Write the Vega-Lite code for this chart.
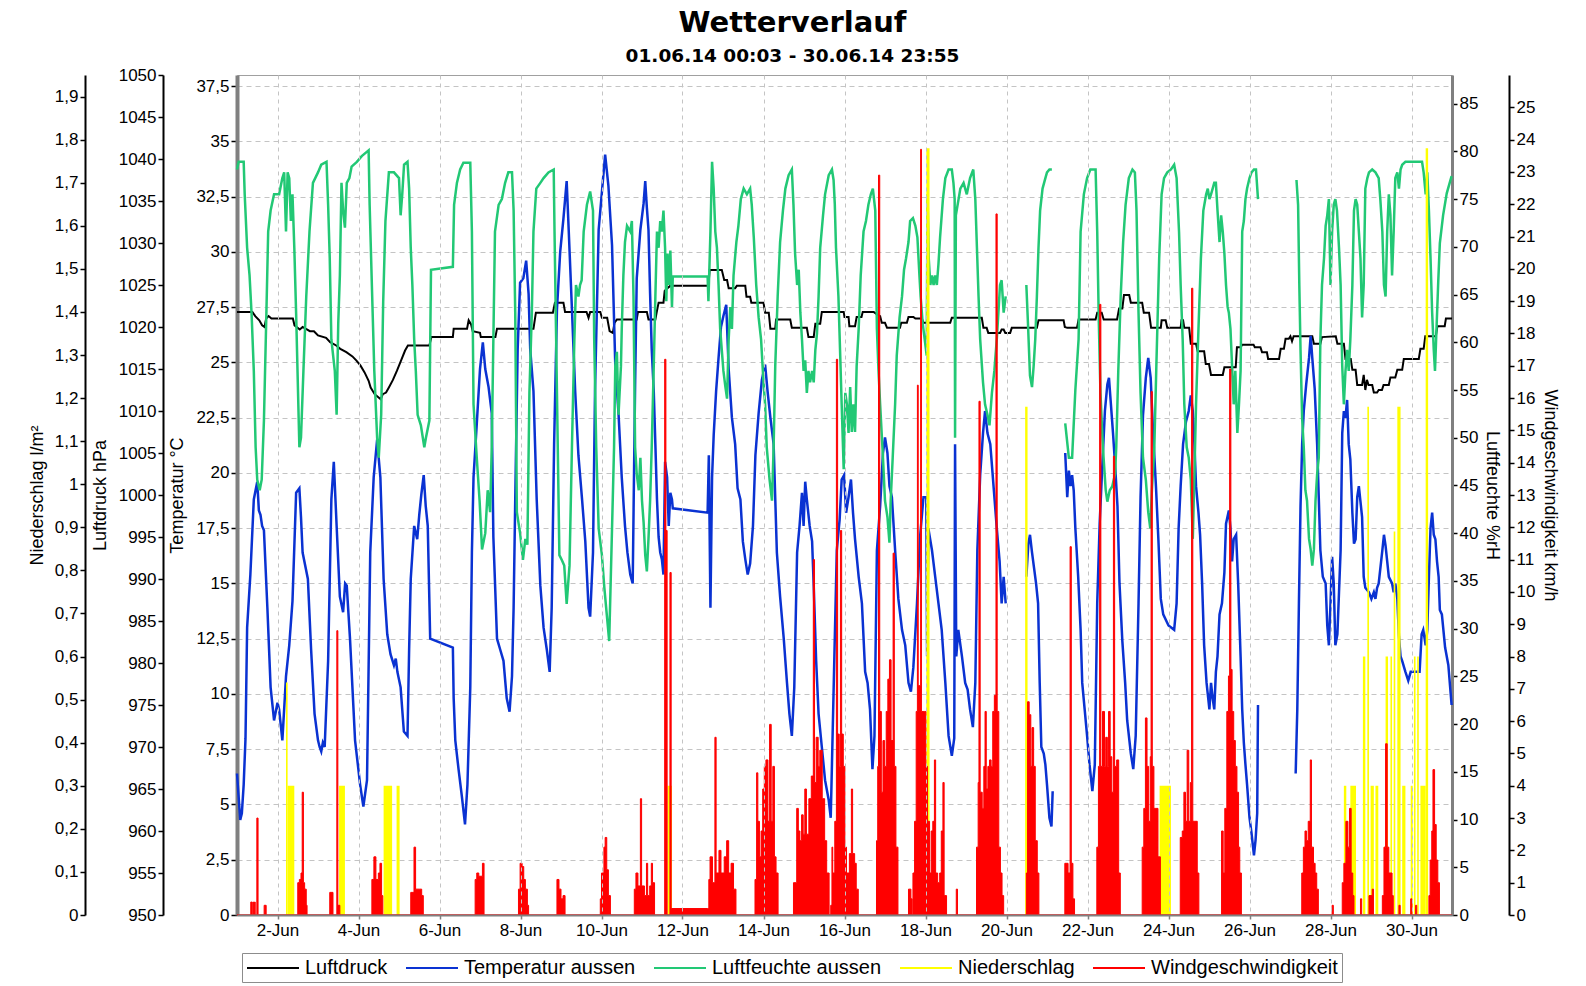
{
"$schema": "https://vega.github.io/schema/vega-lite/v6.json",
"width": 1215,
"height": 840,
"autosize": {"type": "none"},
"padding": {"left": 237, "top": 75, "right": 134, "bottom": 71},
"background": "#ffffff",
"title": {
  "text": "Wetterverlauf",
  "subtitle": "01.06.14 00:03 - 30.06.14 23:55",
  "font": "DejaVu Sans", "fontSize": 29, "fontWeight": "bold", "color": "#000000",
  "subtitleFont": "DejaVu Sans", "subtitleFontSize": 18.5, "subtitleFontWeight": "bold", "subtitleColor": "#000000",
  "subtitlePadding": 9, "offset": 1, "anchor": "middle", "dx": -52
},
"datasets": {
"p": [{"d":1.0,"v":1021.8},{"d":1.38,"v":1021.8},{"d":1.45,"v":1021.3},{"d":1.55,"v":1020.8},{"d":1.62,"v":1020.2},{"d":1.68,"v":1020.0},{"d":1.72,"v":1021.0},{"d":1.78,"v":1021.3},{"d":1.85,"v":1021.0},{"d":2.38,"v":1021.0},{"d":2.42,"v":1020.2},{"d":2.55,"v":1019.7},{"d":2.62,"v":1020.0},{"d":2.8,"v":1019.5},{"d":2.9,"v":1019.5},{"d":3.0,"v":1019.0},{"d":3.2,"v":1018.7},{"d":3.3,"v":1018.2},{"d":3.45,"v":1017.8},{"d":3.55,"v":1017.4},{"d":3.7,"v":1017.0},{"d":3.85,"v":1016.5},{"d":3.95,"v":1016.0},{"d":4.05,"v":1015.4},{"d":4.15,"v":1014.6},{"d":4.25,"v":1013.6},{"d":4.3,"v":1012.8},{"d":4.4,"v":1012.0},{"d":4.55,"v":1011.4},{"d":4.6,"v":1012.0},{"d":4.68,"v":1012.2},{"d":4.75,"v":1012.8},{"d":4.85,"v":1013.7},{"d":4.95,"v":1014.8},{"d":5.05,"v":1016.0},{"d":5.15,"v":1017.2},{"d":5.22,"v":1017.8},{"d":5.75,"v":1017.8},{"d":5.8,"v":1018.8},{"d":6.33,"v":1018.8},{"d":6.35,"v":1019.8},{"d":6.68,"v":1019.8},{"d":6.72,"v":1020.8},{"d":6.78,"v":1020.3},{"d":6.82,"v":1019.5},{"d":7.0,"v":1019.3},{"d":7.02,"v":1018.8},{"d":7.38,"v":1018.8},{"d":7.42,"v":1019.8},{"d":8.32,"v":1019.8},{"d":8.38,"v":1021.7},{"d":8.8,"v":1021.7},{"d":8.85,"v":1022.9},{"d":9.06,"v":1022.9},{"d":9.1,"v":1021.8},{"d":9.63,"v":1021.8},{"d":9.68,"v":1021.1},{"d":9.72,"v":1021.8},{"d":9.97,"v":1021.8},{"d":10.01,"v":1021.1},{"d":10.14,"v":1021.1},{"d":10.2,"v":1019.5},{"d":10.28,"v":1019.3},{"d":10.32,"v":1020.5},{"d":10.38,"v":1020.9},{"d":10.87,"v":1020.9},{"d":10.9,"v":1021.8},{"d":11.12,"v":1021.8},{"d":11.16,"v":1020.9},{"d":11.33,"v":1020.9},{"d":11.36,"v":1021.7},{"d":11.41,"v":1022.9},{"d":11.53,"v":1022.9},{"d":11.56,"v":1024.3},{"d":11.62,"v":1024.6},{"d":11.7,"v":1024.9},{"d":12.64,"v":1024.9},{"d":12.67,"v":1026.8},{"d":12.97,"v":1026.8},{"d":13.03,"v":1025.6},{"d":13.1,"v":1025.6},{"d":13.14,"v":1024.6},{"d":13.3,"v":1024.6},{"d":13.34,"v":1024.9},{"d":13.55,"v":1024.9},{"d":13.58,"v":1023.6},{"d":13.67,"v":1023.6},{"d":13.7,"v":1022.9},{"d":14.0,"v":1022.9},{"d":14.04,"v":1021.7},{"d":14.13,"v":1021.7},{"d":14.17,"v":1019.8},{"d":14.29,"v":1019.8},{"d":14.31,"v":1020.9},{"d":14.66,"v":1020.9},{"d":14.7,"v":1019.9},{"d":15.07,"v":1019.9},{"d":15.11,"v":1018.8},{"d":15.24,"v":1018.8},{"d":15.28,"v":1020.4},{"d":15.4,"v":1020.4},{"d":15.44,"v":1021.8},{"d":15.98,"v":1021.8},{"d":16.0,"v":1021.2},{"d":16.1,"v":1021.2},{"d":16.12,"v":1020.1},{"d":16.26,"v":1020.1},{"d":16.3,"v":1021.2},{"d":16.42,"v":1021.2},{"d":16.45,"v":1021.8},{"d":16.72,"v":1021.8},{"d":16.8,"v":1021.5},{"d":16.88,"v":1021.3},{"d":16.92,"v":1020.5},{"d":17.0,"v":1020.5},{"d":17.05,"v":1019.9},{"d":17.37,"v":1019.9},{"d":17.4,"v":1020.5},{"d":17.54,"v":1020.5},{"d":17.58,"v":1021.2},{"d":17.7,"v":1021.2},{"d":17.75,"v":1021.0},{"d":17.91,"v":1021.0},{"d":17.95,"v":1020.5},{"d":18.61,"v":1020.5},{"d":18.65,"v":1021.1},{"d":19.39,"v":1021.1},{"d":19.43,"v":1019.9},{"d":19.51,"v":1019.9},{"d":19.55,"v":1019.3},{"d":19.84,"v":1019.3},{"d":19.88,"v":1019.7},{"d":19.93,"v":1019.7},{"d":19.97,"v":1019.3},{"d":20.09,"v":1019.3},{"d":20.13,"v":1019.9},{"d":20.75,"v":1019.9},{"d":20.79,"v":1020.8},{"d":21.41,"v":1020.8},{"d":21.44,"v":1020.0},{"d":21.5,"v":1019.9},{"d":21.74,"v":1019.9},{"d":21.78,"v":1020.9},{"d":22.2,"v":1020.9},{"d":22.24,"v":1021.7},{"d":22.35,"v":1021.7},{"d":22.4,"v":1020.9},{"d":22.73,"v":1020.9},{"d":22.78,"v":1022.2},{"d":22.86,"v":1022.2},{"d":22.9,"v":1023.8},{"d":23.03,"v":1023.8},{"d":23.07,"v":1022.9},{"d":23.35,"v":1022.9},{"d":23.39,"v":1021.7},{"d":23.52,"v":1021.7},{"d":23.57,"v":1019.9},{"d":23.81,"v":1019.9},{"d":23.83,"v":1020.8},{"d":23.93,"v":1020.8},{"d":23.97,"v":1019.9},{"d":24.3,"v":1019.9},{"d":24.32,"v":1020.8},{"d":24.36,"v":1020.8},{"d":24.39,"v":1019.9},{"d":24.51,"v":1019.9},{"d":24.55,"v":1018.0},{"d":24.68,"v":1018.0},{"d":24.72,"v":1017.1},{"d":24.88,"v":1017.1},{"d":24.92,"v":1015.6},{"d":25.0,"v":1015.6},{"d":25.05,"v":1014.3},{"d":25.34,"v":1014.3},{"d":25.38,"v":1015.2},{"d":25.66,"v":1015.2},{"d":25.69,"v":1017.6},{"d":25.78,"v":1017.6},{"d":25.82,"v":1017.9},{"d":26.1,"v":1017.9},{"d":26.13,"v":1017.6},{"d":26.27,"v":1017.6},{"d":26.31,"v":1017.0},{"d":26.43,"v":1017.0},{"d":26.46,"v":1016.2},{"d":26.73,"v":1016.2},{"d":26.77,"v":1017.4},{"d":26.85,"v":1017.4},{"d":26.89,"v":1018.6},{"d":26.97,"v":1018.6},{"d":27.01,"v":1018.9},{"d":27.05,"v":1018.3},{"d":27.09,"v":1018.9},{"d":27.55,"v":1018.9},{"d":27.59,"v":1018.0},{"d":27.75,"v":1018.0},{"d":27.79,"v":1018.8},{"d":28.13,"v":1018.9},{"d":28.17,"v":1018.0},{"d":28.33,"v":1018.0},{"d":28.37,"v":1016.2},{"d":28.5,"v":1016.2},{"d":28.54,"v":1014.9},{"d":28.62,"v":1014.9},{"d":28.66,"v":1013.1},{"d":28.78,"v":1013.1},{"d":28.82,"v":1014.3},{"d":28.86,"v":1012.5},{"d":28.9,"v":1013.7},{"d":28.94,"v":1013.1},{"d":29.03,"v":1013.1},{"d":29.07,"v":1012.2},{"d":29.15,"v":1012.2},{"d":29.19,"v":1012.5},{"d":29.27,"v":1012.5},{"d":29.31,"v":1013.1},{"d":29.44,"v":1013.1},{"d":29.48,"v":1014.0},{"d":29.6,"v":1014.0},{"d":29.65,"v":1014.9},{"d":29.77,"v":1014.9},{"d":29.81,"v":1016.2},{"d":30.18,"v":1016.2},{"d":30.22,"v":1017.4},{"d":30.3,"v":1017.4},{"d":30.34,"v":1018.9},{"d":30.6,"v":1018.9},{"d":30.64,"v":1020.1},{"d":30.82,"v":1020.1},{"d":30.85,"v":1021.0},{"d":31.0,"v":1021.0}],
"t": [{"d":1.0,"v":6.4},{"d":1.08,"v":4.3},{"d":1.12,"v":4.6},{"d":1.165,"v":5.9},{"d":1.21,"v":8.0},{"d":1.25,"v":13.0},{"d":1.33,"v":15.4},{"d":1.415,"v":18.8},{"d":1.5,"v":19.6},{"d":1.54,"v":18.3},{"d":1.58,"v":18.1},{"d":1.62,"v":17.6},{"d":1.665,"v":17.4},{"d":1.75,"v":13.9},{"d":1.83,"v":10.3},{"d":1.915,"v":8.8},{"d":2.0,"v":9.6},{"d":2.04,"v":9.3},{"d":2.08,"v":8.6},{"d":2.12,"v":7.9},{"d":2.17,"v":9.5},{"d":2.21,"v":10.8},{"d":2.29,"v":12.2},{"d":2.37,"v":14.2},{"d":2.46,"v":19.1},{"d":2.54,"v":19.3},{"d":2.58,"v":18.0},{"d":2.62,"v":16.4},{"d":2.75,"v":15.2},{"d":2.83,"v":12.0},{"d":2.915,"v":9.1},{"d":3.0,"v":7.9},{"d":3.04,"v":7.6},{"d":3.08,"v":7.4},{"d":3.12,"v":7.8},{"d":3.165,"v":7.6},{"d":3.25,"v":11.5},{"d":3.33,"v":18.8},{"d":3.39,"v":20.5},{"d":3.46,"v":17.6},{"d":3.54,"v":14.4},{"d":3.62,"v":13.7},{"d":3.67,"v":15.0},{"d":3.71,"v":14.9},{"d":3.79,"v":12.5},{"d":3.915,"v":7.9},{"d":4.04,"v":5.9},{"d":4.12,"v":4.9},{"d":4.21,"v":6.1},{"d":4.29,"v":16.4},{"d":4.375,"v":19.8},{"d":4.46,"v":21.5},{"d":4.54,"v":19.8},{"d":4.62,"v":15.2},{"d":4.71,"v":12.7},{"d":4.79,"v":11.8},{"d":4.875,"v":11.3},{"d":4.92,"v":11.6},{"d":4.96,"v":11.0},{"d":5.04,"v":10.3},{"d":5.12,"v":8.3},{"d":5.21,"v":8.1},{"d":5.25,"v":12.0},{"d":5.29,"v":15.2},{"d":5.375,"v":17.6},{"d":5.45,"v":17.0},{"d":5.5,"v":18.1},{"d":5.55,"v":19.0},{"d":5.61,"v":19.9},{"d":5.66,"v":18.5},{"d":5.71,"v":17.6},{"d":5.77,"v":12.5},{"d":6.33,"v":12.1},{"d":6.35,"v":9.8},{"d":6.39,"v":7.9},{"d":6.47,"v":6.6},{"d":6.55,"v":5.4},{"d":6.63,"v":4.1},{"d":6.69,"v":5.9},{"d":6.76,"v":10.3},{"d":6.8,"v":16.4},{"d":6.84,"v":19.8},{"d":6.92,"v":22.2},{"d":7.0,"v":24.7},{"d":7.07,"v":25.9},{"d":7.13,"v":24.7},{"d":7.21,"v":23.9},{"d":7.29,"v":22.7},{"d":7.33,"v":17.1},{"d":7.42,"v":12.5},{"d":7.5,"v":12.0},{"d":7.58,"v":11.5},{"d":7.66,"v":9.8},{"d":7.73,"v":9.2},{"d":7.79,"v":10.8},{"d":7.83,"v":13.9},{"d":7.87,"v":18.8},{"d":7.93,"v":25.6},{"d":7.99,"v":28.6},{"d":8.07,"v":28.8},{"d":8.14,"v":29.6},{"d":8.2,"v":28.1},{"d":8.24,"v":25.6},{"d":8.32,"v":23.7},{"d":8.4,"v":18.8},{"d":8.49,"v":14.9},{"d":8.57,"v":13.0},{"d":8.65,"v":12.0},{"d":8.72,"v":11.0},{"d":8.77,"v":13.9},{"d":8.83,"v":21.3},{"d":8.9,"v":27.4},{"d":8.98,"v":30.0},{"d":9.06,"v":31.5},{"d":9.14,"v":33.2},{"d":9.19,"v":31.0},{"d":9.27,"v":27.4},{"d":9.35,"v":23.7},{"d":9.43,"v":20.8},{"d":9.52,"v":18.8},{"d":9.6,"v":16.9},{"d":9.68,"v":13.9},{"d":9.72,"v":13.5},{"d":9.79,"v":16.4},{"d":9.84,"v":23.7},{"d":9.93,"v":31.0},{"d":10.01,"v":32.7},{"d":10.09,"v":34.4},{"d":10.17,"v":33.0},{"d":10.26,"v":30.3},{"d":10.34,"v":24.9},{"d":10.42,"v":22.7},{"d":10.5,"v":19.8},{"d":10.58,"v":17.6},{"d":10.64,"v":16.4},{"d":10.71,"v":15.4},{"d":10.77,"v":15.0},{"d":10.83,"v":24.0},{"d":10.87,"v":28.8},{"d":10.96,"v":31.0},{"d":11.04,"v":32.2},{"d":11.08,"v":33.2},{"d":11.12,"v":32.0},{"d":11.16,"v":31.0},{"d":11.2,"v":28.1},{"d":11.24,"v":25.6},{"d":11.29,"v":23.7},{"d":11.33,"v":21.3},{"d":11.37,"v":18.8},{"d":11.41,"v":17.1},{"d":11.45,"v":16.4},{"d":11.49,"v":16.1},{"d":11.53,"v":15.4},{"d":11.57,"v":20.5},{"d":11.62,"v":19.8},{"d":11.66,"v":17.6},{"d":11.7,"v":19.1},{"d":11.74,"v":18.8},{"d":11.76,"v":18.4},{"d":12.62,"v":18.2},{"d":12.65,"v":20.8},{"d":12.69,"v":13.9},{"d":12.73,"v":19.8},{"d":12.77,"v":21.7},{"d":12.83,"v":23.7},{"d":12.89,"v":25.2},{"d":12.95,"v":26.6},{"d":13.01,"v":27.1},{"d":13.08,"v":27.6},{"d":13.14,"v":24.7},{"d":13.22,"v":22.5},{"d":13.3,"v":21.3},{"d":13.36,"v":19.3},{"d":13.43,"v":18.8},{"d":13.49,"v":16.9},{"d":13.55,"v":16.1},{"d":13.61,"v":15.4},{"d":13.67,"v":15.9},{"d":13.74,"v":17.6},{"d":13.8,"v":20.8},{"d":13.88,"v":22.7},{"d":13.96,"v":24.2},{"d":14.04,"v":24.9},{"d":14.1,"v":23.7},{"d":14.17,"v":22.5},{"d":14.25,"v":21.3},{"d":14.33,"v":16.4},{"d":14.41,"v":14.4},{"d":14.5,"v":12.5},{"d":14.58,"v":10.5},{"d":14.64,"v":9.1},{"d":14.7,"v":8.1},{"d":14.76,"v":10.3},{"d":14.83,"v":16.4},{"d":14.89,"v":17.6},{"d":14.95,"v":19.1},{"d":14.99,"v":17.6},{"d":15.03,"v":19.6},{"d":15.07,"v":18.8},{"d":15.14,"v":17.6},{"d":15.2,"v":16.9},{"d":15.24,"v":14.9},{"d":15.3,"v":11.5},{"d":15.36,"v":9.1},{"d":15.44,"v":7.6},{"d":15.52,"v":6.1},{"d":15.61,"v":5.2},{"d":15.66,"v":4.4},{"d":15.69,"v":6.8},{"d":15.75,"v":11.7},{"d":15.81,"v":16.5},{"d":15.88,"v":17.9},{"d":15.93,"v":19.7},{"d":15.99,"v":19.9},{"d":16.04,"v":18.2},{"d":16.1,"v":18.9},{"d":16.16,"v":19.7},{"d":16.21,"v":18.2},{"d":16.26,"v":17.0},{"d":16.35,"v":15.3},{"d":16.43,"v":14.1},{"d":16.51,"v":11.0},{"d":16.57,"v":10.5},{"d":16.63,"v":9.3},{"d":16.69,"v":6.6},{"d":16.74,"v":8.1},{"d":16.8,"v":16.5},{"d":16.88,"v":18.5},{"d":16.95,"v":20.9},{"d":17.0,"v":21.6},{"d":17.06,"v":20.9},{"d":17.11,"v":19.4},{"d":17.17,"v":18.9},{"d":17.25,"v":16.5},{"d":17.33,"v":14.3},{"d":17.42,"v":12.9},{"d":17.5,"v":12.2},{"d":17.58,"v":10.5},{"d":17.64,"v":10.1},{"d":17.7,"v":11.2},{"d":17.79,"v":14.1},{"d":17.87,"v":17.2},{"d":17.95,"v":18.9},{"d":18.02,"v":18.9},{"d":18.04,"v":11.7},{"d":18.07,"v":17.5},{"d":18.16,"v":16.5},{"d":18.24,"v":15.3},{"d":18.32,"v":14.1},{"d":18.4,"v":12.9},{"d":18.49,"v":10.5},{"d":18.57,"v":8.1},{"d":18.65,"v":7.2},{"d":18.71,"v":8.0},{"d":18.73,"v":21.3},{"d":18.76,"v":11.7},{"d":18.81,"v":12.9},{"d":18.9,"v":11.7},{"d":18.98,"v":10.5},{"d":19.04,"v":10.2},{"d":19.1,"v":9.3},{"d":19.17,"v":8.5},{"d":19.23,"v":10.5},{"d":19.28,"v":16.5},{"d":19.35,"v":19.9},{"d":19.42,"v":21.8},{"d":19.47,"v":22.8},{"d":19.53,"v":21.8},{"d":19.6,"v":21.3},{"d":19.68,"v":19.4},{"d":19.76,"v":17.5},{"d":19.83,"v":16.0},{"d":19.88,"v":14.1},{"d":19.93,"v":15.3},{"d":19.98,"v":14.1},{"d":20.2,"v":null},{"d":20.49,"v":15.3},{"d":20.54,"v":16.8},{"d":20.58,"v":17.2},{"d":20.63,"v":16.4},{"d":20.68,"v":15.7},{"d":20.73,"v":15.0},{"d":20.78,"v":14.1},{"d":20.82,"v":10.5},{"d":20.86,"v":7.6},{"d":20.92,"v":7.3},{"d":20.96,"v":6.8},{"d":21.0,"v":5.9},{"d":21.06,"v":4.4},{"d":21.11,"v":4.0},{"d":21.14,"v":5.6},{"d":21.3,"v":null},{"d":21.45,"v":20.9},{"d":21.5,"v":18.9},{"d":21.54,"v":20.1},{"d":21.58,"v":19.4},{"d":21.62,"v":19.9},{"d":21.66,"v":19.2},{"d":21.7,"v":17.5},{"d":21.77,"v":15.3},{"d":21.83,"v":12.9},{"d":21.87,"v":10.5},{"d":21.93,"v":9.3},{"d":21.99,"v":8.1},{"d":22.05,"v":6.8},{"d":22.12,"v":5.6},{"d":22.18,"v":6.8},{"d":22.24,"v":14.1},{"d":22.3,"v":17.7},{"d":22.36,"v":20.1},{"d":22.43,"v":22.8},{"d":22.49,"v":24.0},{"d":22.53,"v":24.3},{"d":22.57,"v":23.3},{"d":22.63,"v":21.8},{"d":22.68,"v":20.4},{"d":22.74,"v":18.5},{"d":22.79,"v":15.0},{"d":22.86,"v":12.4},{"d":22.93,"v":10.5},{"d":22.98,"v":8.8},{"d":23.07,"v":7.3},{"d":23.13,"v":6.6},{"d":23.19,"v":8.1},{"d":23.26,"v":14.1},{"d":23.31,"v":18.9},{"d":23.37,"v":22.6},{"d":23.44,"v":24.3},{"d":23.5,"v":25.2},{"d":23.56,"v":24.3},{"d":23.62,"v":21.8},{"d":23.69,"v":19.4},{"d":23.75,"v":17.0},{"d":23.81,"v":14.3},{"d":23.87,"v":13.6},{"d":24.0,"v":13.1},{"d":24.14,"v":12.9},{"d":24.2,"v":14.1},{"d":24.25,"v":17.5},{"d":24.3,"v":19.4},{"d":24.36,"v":21.3},{"d":24.43,"v":22.3},{"d":24.5,"v":22.8},{"d":24.55,"v":23.5},{"d":24.6,"v":22.8},{"d":24.64,"v":21.3},{"d":24.68,"v":19.4},{"d":24.74,"v":18.2},{"d":24.78,"v":17.2},{"d":24.83,"v":15.0},{"d":24.88,"v":12.2},{"d":24.94,"v":10.5},{"d":25.01,"v":9.3},{"d":25.05,"v":10.5},{"d":25.09,"v":9.8},{"d":25.13,"v":9.3},{"d":25.17,"v":11.0},{"d":25.21,"v":11.7},{"d":25.26,"v":13.6},{"d":25.32,"v":14.1},{"d":25.38,"v":15.5},{"d":25.42,"v":17.7},{"d":25.49,"v":18.3},{"d":25.53,"v":17.5},{"d":25.57,"v":16.0},{"d":25.61,"v":17.0},{"d":25.67,"v":17.2},{"d":25.72,"v":15.0},{"d":25.78,"v":11.7},{"d":25.82,"v":9.3},{"d":25.86,"v":7.8},{"d":25.9,"v":6.8},{"d":25.94,"v":5.9},{"d":26.0,"v":4.4},{"d":26.05,"v":3.7},{"d":26.11,"v":2.7},{"d":26.15,"v":3.4},{"d":26.19,"v":4.6},{"d":26.21,"v":9.5},{"d":26.6,"v":null},{"d":27.14,"v":6.4},{"d":27.18,"v":9.3},{"d":27.22,"v":14.1},{"d":27.26,"v":18.5},{"d":27.3,"v":21.3},{"d":27.34,"v":22.8},{"d":27.4,"v":24.0},{"d":27.47,"v":25.2},{"d":27.51,"v":26.2},{"d":27.55,"v":25.2},{"d":27.61,"v":23.8},{"d":27.67,"v":21.3},{"d":27.71,"v":18.9},{"d":27.75,"v":16.5},{"d":27.81,"v":15.3},{"d":27.88,"v":15.0},{"d":27.92,"v":13.1},{"d":27.96,"v":12.2},{"d":28.0,"v":14.1},{"d":28.04,"v":16.2},{"d":28.08,"v":15.0},{"d":28.12,"v":12.2},{"d":28.17,"v":12.7},{"d":28.21,"v":14.6},{"d":28.25,"v":16.5},{"d":28.29,"v":21.8},{"d":28.33,"v":22.8},{"d":28.37,"v":22.5},{"d":28.41,"v":23.3},{"d":28.45,"v":21.3},{"d":28.49,"v":20.6},{"d":28.54,"v":18.2},{"d":28.58,"v":16.8},{"d":28.62,"v":17.0},{"d":28.66,"v":18.9},{"d":28.7,"v":19.4},{"d":28.74,"v":18.7},{"d":28.78,"v":18.0},{"d":28.82,"v":15.3},{"d":28.86,"v":14.8},{"d":28.95,"v":14.6},{"d":29.01,"v":14.3},{"d":29.07,"v":14.6},{"d":29.11,"v":14.3},{"d":29.15,"v":14.8},{"d":29.19,"v":15.0},{"d":29.28,"v":16.5},{"d":29.32,"v":17.2},{"d":29.36,"v":16.7},{"d":29.4,"v":16.0},{"d":29.44,"v":15.3},{"d":29.52,"v":15.0},{"d":29.56,"v":14.6},{"d":29.6,"v":15.0},{"d":29.65,"v":14.3},{"d":29.69,"v":12.6},{"d":29.73,"v":11.7},{"d":29.77,"v":11.5},{"d":29.85,"v":11.0},{"d":29.92,"v":10.6},{"d":29.98,"v":11.0},{"d":30.06,"v":11.0},{"d":30.14,"v":11.0},{"d":30.2,"v":11.0},{"d":30.25,"v":12.7},{"d":30.29,"v":12.9},{"d":30.35,"v":12.2},{"d":30.39,"v":12.9},{"d":30.43,"v":15.3},{"d":30.47,"v":17.5},{"d":30.51,"v":18.2},{"d":30.55,"v":17.2},{"d":30.59,"v":17.0},{"d":30.63,"v":16.0},{"d":30.67,"v":15.3},{"d":30.7,"v":13.8},{"d":30.75,"v":13.6},{"d":30.83,"v":12.1},{"d":30.91,"v":11.3},{"d":30.99,"v":9.5}],
"h": [{"d":1.0,"v":78.1},{"d":1.04,"v":78.9},{"d":1.165,"v":78.9},{"d":1.19,"v":75.5},{"d":1.25,"v":69.9},{"d":1.31,"v":67.0},{"d":1.36,"v":63.0},{"d":1.415,"v":57.0},{"d":1.46,"v":49.0},{"d":1.5,"v":45.6},{"d":1.56,"v":44.5},{"d":1.61,"v":45.6},{"d":1.665,"v":51.8},{"d":1.72,"v":62.0},{"d":1.77,"v":71.6},{"d":1.83,"v":73.8},{"d":1.915,"v":75.5},{"d":2.04,"v":75.5},{"d":2.12,"v":77.2},{"d":2.165,"v":77.8},{"d":2.21,"v":71.6},{"d":2.25,"v":77.8},{"d":2.29,"v":77.2},{"d":2.33,"v":72.7},{"d":2.37,"v":75.5},{"d":2.415,"v":69.9},{"d":2.46,"v":63.0},{"d":2.54,"v":49.0},{"d":2.58,"v":50.0},{"d":2.64,"v":57.0},{"d":2.71,"v":64.8},{"d":2.79,"v":71.6},{"d":2.875,"v":76.7},{"d":3.0,"v":77.8},{"d":3.08,"v":78.6},{"d":3.21,"v":78.9},{"d":3.25,"v":74.4},{"d":3.29,"v":68.8},{"d":3.33,"v":60.3},{"d":3.415,"v":57.0},{"d":3.46,"v":52.4},{"d":3.5,"v":62.0},{"d":3.54,"v":67.0},{"d":3.58,"v":76.7},{"d":3.62,"v":73.8},{"d":3.665,"v":72.0},{"d":3.71,"v":76.7},{"d":3.775,"v":77.2},{"d":3.83,"v":78.4},{"d":3.96,"v":78.9},{"d":4.08,"v":79.5},{"d":4.25,"v":80.1},{"d":4.275,"v":74.4},{"d":4.33,"v":66.0},{"d":4.39,"v":57.0},{"d":4.46,"v":50.0},{"d":4.5,"v":47.9},{"d":4.56,"v":52.4},{"d":4.61,"v":64.3},{"d":4.665,"v":72.7},{"d":4.75,"v":77.8},{"d":4.875,"v":77.8},{"d":5.0,"v":77.2},{"d":5.04,"v":73.3},{"d":5.08,"v":75.5},{"d":5.125,"v":78.6},{"d":5.21,"v":78.9},{"d":5.25,"v":76.1},{"d":5.29,"v":69.9},{"d":5.33,"v":66.0},{"d":5.375,"v":60.3},{"d":5.415,"v":57.0},{"d":5.46,"v":52.4},{"d":5.54,"v":51.3},{"d":5.625,"v":49.0},{"d":5.665,"v":50.0},{"d":5.75,"v":51.8},{"d":5.79,"v":67.6},{"d":6.33,"v":67.9},{"d":6.36,"v":74.4},{"d":6.43,"v":76.7},{"d":6.51,"v":78.1},{"d":6.59,"v":78.8},{"d":6.76,"v":78.8},{"d":6.8,"v":71.6},{"d":6.84,"v":53.5},{"d":6.92,"v":47.9},{"d":6.99,"v":43.4},{"d":7.05,"v":38.3},{"d":7.13,"v":40.0},{"d":7.19,"v":44.5},{"d":7.25,"v":42.2},{"d":7.29,"v":49.0},{"d":7.33,"v":60.3},{"d":7.37,"v":71.6},{"d":7.46,"v":74.4},{"d":7.54,"v":75.0},{"d":7.62,"v":76.7},{"d":7.7,"v":77.8},{"d":7.79,"v":77.8},{"d":7.83,"v":73.8},{"d":7.87,"v":63.1},{"d":7.91,"v":42.2},{"d":7.99,"v":40.0},{"d":8.06,"v":37.2},{"d":8.12,"v":39.4},{"d":8.17,"v":38.8},{"d":8.22,"v":54.7},{"d":8.28,"v":63.1},{"d":8.32,"v":71.6},{"d":8.39,"v":76.1},{"d":8.49,"v":76.7},{"d":8.57,"v":77.2},{"d":8.69,"v":77.8},{"d":8.82,"v":78.1},{"d":8.84,"v":71.6},{"d":8.9,"v":54.7},{"d":8.96,"v":37.7},{"d":9.02,"v":37.2},{"d":9.08,"v":36.6},{"d":9.14,"v":32.6},{"d":9.21,"v":36.6},{"d":9.27,"v":49.0},{"d":9.33,"v":60.3},{"d":9.37,"v":66.0},{"d":9.43,"v":64.8},{"d":9.47,"v":66.0},{"d":9.51,"v":66.5},{"d":9.56,"v":71.6},{"d":9.64,"v":74.4},{"d":9.72,"v":75.8},{"d":9.79,"v":73.8},{"d":9.82,"v":60.3},{"d":9.87,"v":49.0},{"d":9.93,"v":40.5},{"d":10.01,"v":37.7},{"d":10.07,"v":34.3},{"d":10.13,"v":31.5},{"d":10.19,"v":28.7},{"d":10.26,"v":40.5},{"d":10.31,"v":49.0},{"d":10.34,"v":57.5},{"d":10.38,"v":59.0},{"d":10.42,"v":52.4},{"d":10.48,"v":57.5},{"d":10.5,"v":61.4},{"d":10.54,"v":67.0},{"d":10.58,"v":70.5},{"d":10.63,"v":72.2},{"d":10.71,"v":71.6},{"d":10.75,"v":72.7},{"d":10.79,"v":64.8},{"d":10.83,"v":49.0},{"d":10.87,"v":46.2},{"d":10.92,"v":44.5},{"d":10.96,"v":47.9},{"d":11.0,"v":43.4},{"d":11.04,"v":41.1},{"d":11.08,"v":37.7},{"d":11.12,"v":36.0},{"d":11.16,"v":39.4},{"d":11.2,"v":43.4},{"d":11.24,"v":49.0},{"d":11.29,"v":57.5},{"d":11.33,"v":64.8},{"d":11.37,"v":71.6},{"d":11.41,"v":69.9},{"d":11.45,"v":72.7},{"d":11.49,"v":71.6},{"d":11.53,"v":73.8},{"d":11.57,"v":69.9},{"d":11.6,"v":64.3},{"d":11.63,"v":69.3},{"d":11.66,"v":66.0},{"d":11.7,"v":69.6},{"d":11.74,"v":63.7},{"d":11.76,"v":66.9},{"d":12.62,"v":66.9},{"d":12.64,"v":64.3},{"d":12.69,"v":71.6},{"d":12.73,"v":78.9},{"d":12.77,"v":76.1},{"d":12.81,"v":71.6},{"d":12.85,"v":69.9},{"d":12.89,"v":66.0},{"d":12.93,"v":61.4},{"d":12.97,"v":59.2},{"d":13.01,"v":57.0},{"d":13.06,"v":55.3},{"d":13.1,"v":54.1},{"d":13.14,"v":60.3},{"d":13.18,"v":63.7},{"d":13.22,"v":61.4},{"d":13.26,"v":67.0},{"d":13.33,"v":70.5},{"d":13.38,"v":72.2},{"d":13.44,"v":75.0},{"d":13.51,"v":76.1},{"d":13.59,"v":75.5},{"d":13.67,"v":76.1},{"d":13.71,"v":74.4},{"d":13.76,"v":71.0},{"d":13.82,"v":66.0},{"d":13.88,"v":62.6},{"d":13.94,"v":60.3},{"d":14.0,"v":55.8},{"d":14.04,"v":53.5},{"d":14.08,"v":49.0},{"d":14.15,"v":45.6},{"d":14.21,"v":43.4},{"d":14.25,"v":49.0},{"d":14.29,"v":57.5},{"d":14.35,"v":64.8},{"d":14.41,"v":70.5},{"d":14.48,"v":73.8},{"d":14.54,"v":76.1},{"d":14.62,"v":77.5},{"d":14.7,"v":78.1},{"d":14.74,"v":74.4},{"d":14.78,"v":69.3},{"d":14.83,"v":66.0},{"d":14.87,"v":67.6},{"d":14.91,"v":63.1},{"d":14.95,"v":60.3},{"d":14.99,"v":57.0},{"d":15.03,"v":58.1},{"d":15.07,"v":54.7},{"d":15.11,"v":57.0},{"d":15.15,"v":55.8},{"d":15.2,"v":57.0},{"d":15.24,"v":55.8},{"d":15.28,"v":59.2},{"d":15.32,"v":60.9},{"d":15.36,"v":64.8},{"d":15.4,"v":69.9},{"d":15.47,"v":73.3},{"d":15.52,"v":75.5},{"d":15.61,"v":77.5},{"d":15.69,"v":78.1},{"d":15.73,"v":77.0},{"d":15.76,"v":74.5},{"d":15.79,"v":69.9},{"d":15.85,"v":64.8},{"d":15.89,"v":59.2},{"d":15.93,"v":53.5},{"d":15.98,"v":46.7},{"d":16.02,"v":54.7},{"d":16.06,"v":53.5},{"d":16.1,"v":50.5},{"d":16.14,"v":55.3},{"d":16.18,"v":50.6},{"d":16.22,"v":53.5},{"d":16.26,"v":50.6},{"d":16.3,"v":57.5},{"d":16.35,"v":61.4},{"d":16.4,"v":67.0},{"d":16.47,"v":71.6},{"d":16.53,"v":72.7},{"d":16.59,"v":74.4},{"d":16.65,"v":75.5},{"d":16.7,"v":76.1},{"d":16.76,"v":73.8},{"d":16.8,"v":61.4},{"d":16.84,"v":57.0},{"d":16.88,"v":53.5},{"d":16.95,"v":47.9},{"d":17.0,"v":43.4},{"d":17.06,"v":41.7},{"d":17.11,"v":39.0},{"d":17.14,"v":43.4},{"d":17.19,"v":47.9},{"d":17.25,"v":53.5},{"d":17.29,"v":58.6},{"d":17.36,"v":62.6},{"d":17.42,"v":64.8},{"d":17.47,"v":67.6},{"d":17.52,"v":68.8},{"d":17.58,"v":70.5},{"d":17.62,"v":72.7},{"d":17.69,"v":73.0},{"d":17.75,"v":72.2},{"d":17.8,"v":71.0},{"d":17.85,"v":67.0},{"d":17.88,"v":64.8},{"d":17.93,"v":62.0},{"d":17.98,"v":60.3},{"d":18.03,"v":58.6},{"d":18.05,"v":75.5},{"d":18.08,"v":68.8},{"d":18.12,"v":66.0},{"d":18.16,"v":67.0},{"d":18.2,"v":66.0},{"d":18.24,"v":67.0},{"d":18.28,"v":66.0},{"d":18.32,"v":68.2},{"d":18.36,"v":71.0},{"d":18.43,"v":75.0},{"d":18.49,"v":77.2},{"d":18.57,"v":78.1},{"d":18.65,"v":78.1},{"d":18.69,"v":76.7},{"d":18.72,"v":75.0},{"d":18.73,"v":50.0},{"d":18.75,"v":73.3},{"d":18.86,"v":76.1},{"d":18.94,"v":76.7},{"d":19.02,"v":75.5},{"d":19.1,"v":77.2},{"d":19.18,"v":78.1},{"d":19.23,"v":75.0},{"d":19.27,"v":69.9},{"d":19.31,"v":64.8},{"d":19.35,"v":60.3},{"d":19.42,"v":55.8},{"d":19.47,"v":53.5},{"d":19.53,"v":52.4},{"d":19.58,"v":51.3},{"d":19.64,"v":54.7},{"d":19.7,"v":57.0},{"d":19.76,"v":60.3},{"d":19.8,"v":63.1},{"d":19.84,"v":66.0},{"d":19.88,"v":66.5},{"d":19.93,"v":63.1},{"d":19.98,"v":64.8},{"d":20.2,"v":null},{"d":20.49,"v":66.0},{"d":20.53,"v":62.0},{"d":20.58,"v":56.5},{"d":20.63,"v":55.3},{"d":20.67,"v":57.5},{"d":20.71,"v":60.3},{"d":20.75,"v":64.8},{"d":20.79,"v":69.9},{"d":20.83,"v":73.8},{"d":20.89,"v":76.1},{"d":20.96,"v":77.2},{"d":21.0,"v":77.8},{"d":21.06,"v":78.1},{"d":21.12,"v":78.1},{"d":21.3,"v":null},{"d":21.45,"v":51.5},{"d":21.54,"v":47.9},{"d":21.62,"v":47.9},{"d":21.7,"v":55.0},{"d":21.78,"v":60.3},{"d":21.83,"v":71.6},{"d":21.91,"v":75.5},{"d":21.99,"v":77.2},{"d":22.07,"v":78.1},{"d":22.2,"v":78.1},{"d":22.24,"v":71.6},{"d":22.28,"v":62.0},{"d":22.32,"v":54.7},{"d":22.38,"v":49.0},{"d":22.45,"v":44.5},{"d":22.49,"v":43.3},{"d":22.55,"v":44.5},{"d":22.61,"v":44.9},{"d":22.68,"v":46.2},{"d":22.71,"v":49.0},{"d":22.76,"v":57.0},{"d":22.82,"v":64.8},{"d":22.88,"v":70.5},{"d":22.94,"v":74.4},{"d":23.02,"v":77.2},{"d":23.11,"v":78.1},{"d":23.17,"v":77.8},{"d":23.21,"v":73.8},{"d":23.26,"v":63.1},{"d":23.31,"v":54.7},{"d":23.37,"v":47.9},{"d":23.44,"v":45.6},{"d":23.5,"v":42.2},{"d":23.55,"v":40.5},{"d":23.59,"v":44.5},{"d":23.65,"v":49.0},{"d":23.7,"v":57.5},{"d":23.77,"v":68.8},{"d":23.83,"v":75.5},{"d":23.89,"v":77.2},{"d":23.97,"v":77.8},{"d":24.06,"v":78.1},{"d":24.14,"v":78.6},{"d":24.2,"v":77.2},{"d":24.26,"v":71.6},{"d":24.3,"v":66.0},{"d":24.35,"v":60.3},{"d":24.39,"v":53.5},{"d":24.45,"v":49.0},{"d":24.5,"v":47.9},{"d":24.55,"v":45.6},{"d":24.6,"v":39.4},{"d":24.64,"v":46.2},{"d":24.68,"v":53.5},{"d":24.74,"v":61.4},{"d":24.8,"v":68.8},{"d":24.86,"v":73.8},{"d":24.93,"v":75.5},{"d":24.97,"v":76.1},{"d":25.01,"v":75.0},{"d":25.05,"v":75.5},{"d":25.09,"v":76.1},{"d":25.13,"v":76.7},{"d":25.17,"v":76.7},{"d":25.21,"v":73.8},{"d":25.26,"v":70.5},{"d":25.3,"v":73.3},{"d":25.34,"v":71.6},{"d":25.38,"v":69.3},{"d":25.42,"v":66.0},{"d":25.46,"v":63.7},{"d":25.49,"v":63.1},{"d":25.53,"v":61.4},{"d":25.57,"v":57.5},{"d":25.61,"v":53.5},{"d":25.65,"v":57.0},{"d":25.7,"v":50.5},{"d":25.74,"v":53.5},{"d":25.78,"v":57.0},{"d":25.82,"v":71.6},{"d":25.86,"v":72.7},{"d":25.9,"v":75.0},{"d":25.94,"v":76.1},{"d":26.0,"v":77.2},{"d":26.05,"v":77.8},{"d":26.11,"v":78.1},{"d":26.16,"v":78.1},{"d":26.21,"v":75.0},{"d":26.6,"v":null},{"d":27.16,"v":77.0},{"d":27.2,"v":74.4},{"d":27.23,"v":66.0},{"d":27.26,"v":59.2},{"d":27.3,"v":52.0},{"d":27.34,"v":49.0},{"d":27.38,"v":44.5},{"d":27.42,"v":43.4},{"d":27.47,"v":39.4},{"d":27.51,"v":38.3},{"d":27.55,"v":36.6},{"d":27.59,"v":38.3},{"d":27.63,"v":43.4},{"d":27.67,"v":46.2},{"d":27.71,"v":47.9},{"d":27.75,"v":60.3},{"d":27.79,"v":66.0},{"d":27.84,"v":68.8},{"d":27.88,"v":72.2},{"d":27.92,"v":73.3},{"d":27.96,"v":75.0},{"d":28.0,"v":66.0},{"d":28.04,"v":71.6},{"d":28.08,"v":74.4},{"d":28.12,"v":75.0},{"d":28.16,"v":73.8},{"d":28.21,"v":69.9},{"d":28.25,"v":66.0},{"d":28.29,"v":57.5},{"d":28.33,"v":53.5},{"d":28.37,"v":57.0},{"d":28.41,"v":59.2},{"d":28.45,"v":57.0},{"d":28.49,"v":60.3},{"d":28.54,"v":66.0},{"d":28.58,"v":73.8},{"d":28.62,"v":75.0},{"d":28.66,"v":74.4},{"d":28.7,"v":71.6},{"d":28.74,"v":68.8},{"d":28.78,"v":62.6},{"d":28.82,"v":66.0},{"d":28.86,"v":76.1},{"d":28.91,"v":77.2},{"d":28.95,"v":77.8},{"d":29.03,"v":78.1},{"d":29.11,"v":77.8},{"d":29.19,"v":77.2},{"d":29.23,"v":75.0},{"d":29.28,"v":71.6},{"d":29.32,"v":66.0},{"d":29.36,"v":64.8},{"d":29.4,"v":71.6},{"d":29.44,"v":75.5},{"d":29.48,"v":73.3},{"d":29.52,"v":67.0},{"d":29.56,"v":71.6},{"d":29.6,"v":77.2},{"d":29.65,"v":77.8},{"d":29.69,"v":76.1},{"d":29.73,"v":78.1},{"d":29.77,"v":78.6},{"d":29.85,"v":78.9},{"d":30.26,"v":78.9},{"d":30.3,"v":77.8},{"d":30.35,"v":75.5},{"d":30.39,"v":77.8},{"d":30.43,"v":73.8},{"d":30.47,"v":68.8},{"d":30.51,"v":63.1},{"d":30.55,"v":59.2},{"d":30.58,"v":57.0},{"d":30.62,"v":61.7},{"d":30.66,"v":66.3},{"d":30.7,"v":70.4},{"d":30.78,"v":73.3},{"d":30.87,"v":75.6},{"d":30.99,"v":77.4}],
"r": [{"a":2.21,"b":2.25,"v":0.54},{"a":2.25,"b":2.415,"v":0.3},{"a":3.52,"b":3.665,"v":0.3},{"a":4.62,"b":4.83,"v":0.3},{"a":4.94,"b":5.015,"v":0.3},{"a":11.63,"b":11.74,"v":0.3},{"a":18.02,"b":18.1,"v":1.78},{"a":20.46,"b":20.52,"v":1.18},{"a":23.78,"b":24.06,"v":0.3},{"a":28.33,"b":28.39,"v":0.3},{"a":28.49,"b":28.63,"v":0.3},{"a":28.8,"b":28.86,"v":0.6},{"a":28.91,"b":28.95,"v":1.18},{"a":28.99,"b":29.07,"v":0.3},{"a":29.11,"b":29.18,"v":0.3},{"a":29.36,"b":29.42,"v":0.6},{"a":29.48,"b":29.52,"v":0.6},{"a":29.56,"b":29.6,"v":0.89},{"a":29.65,"b":29.73,"v":1.18},{"a":29.77,"b":29.85,"v":0.3},{"a":29.98,"b":30.03,"v":0.3},{"a":30.06,"b":30.1,"v":0.6},{"a":30.14,"b":30.18,"v":0.6},{"a":30.22,"b":30.35,"v":0.3},{"a":30.35,"b":30.41,"v":1.78}],
"w": [{"d":1.0,"v":0},{"d":1.34,"v":0.4},{"d":1.37,"v":0},{"d":1.39,"v":0.4},{"d":1.41,"v":0},{"d":1.43,"v":0.4},{"d":1.45,"v":0},{"d":1.49,"v":3.0},{"d":1.52,"v":0},{"d":1.67,"v":0.3},{"d":1.72,"v":0},{"d":2.5,"v":1.0},{"d":2.54,"v":1.1},{"d":2.58,"v":1.3},{"d":2.61,"v":3.8},{"d":2.64,"v":1.0},{"d":2.67,"v":0.8},{"d":2.71,"v":0.3},{"d":2.73,"v":0},{"d":3.29,"v":0.7},{"d":3.37,"v":0},{"d":3.465,"v":8.8},{"d":3.49,"v":0.3},{"d":3.54,"v":0},{"d":4.33,"v":1.1},{"d":4.38,"v":1.8},{"d":4.43,"v":1.1},{"d":4.49,"v":1.3},{"d":4.53,"v":1.6},{"d":4.57,"v":0.6},{"d":4.6,"v":0},{"d":5.29,"v":0.7},{"d":5.37,"v":2.1},{"d":5.41,"v":0.8},{"d":5.5,"v":0.8},{"d":5.56,"v":0.6},{"d":5.6,"v":0},{"d":6.88,"v":1.1},{"d":6.92,"v":1.3},{"d":6.97,"v":1.2},{"d":7.06,"v":1.6},{"d":7.1,"v":0},{"d":7.95,"v":0.8},{"d":7.99,"v":1.6},{"d":8.04,"v":1.5},{"d":8.08,"v":1.1},{"d":8.12,"v":0.8},{"d":8.17,"v":0.3},{"d":8.2,"v":0},{"d":8.9,"v":1.1},{"d":8.95,"v":0.8},{"d":9.0,"v":0.5},{"d":9.05,"v":0.6},{"d":9.1,"v":0},{"d":9.97,"v":0.5},{"d":10.0,"v":1.3},{"d":10.06,"v":2.1},{"d":10.09,"v":2.4},{"d":10.13,"v":1.4},{"d":10.17,"v":0.6},{"d":10.22,"v":0},{"d":10.81,"v":0.8},{"d":10.85,"v":1.3},{"d":10.9,"v":0.9},{"d":10.96,"v":3.6},{"d":10.99,"v":0.9},{"d":11.06,"v":0.6},{"d":11.11,"v":1.6},{"d":11.14,"v":0.6},{"d":11.19,"v":0.9},{"d":11.23,"v":1.6},{"d":11.26,"v":1.0},{"d":11.31,"v":0},{"d":11.56,"v":17.2},{"d":11.59,"v":11.9},{"d":11.62,"v":0},{"d":11.69,"v":10.6},{"d":11.72,"v":0.2},{"d":12.62,"v":0.2},{"d":12.65,"v":1.1},{"d":12.68,"v":1.8},{"d":12.74,"v":1.0},{"d":12.8,"v":5.5},{"d":12.83,"v":1.3},{"d":12.9,"v":2.0},{"d":12.95,"v":1.3},{"d":13.03,"v":1.8},{"d":13.09,"v":2.3},{"d":13.14,"v":1.3},{"d":13.2,"v":1.6},{"d":13.26,"v":0.8},{"d":13.32,"v":0},{"d":13.79,"v":1.1},{"d":13.83,"v":4.4},{"d":13.86,"v":2.9},{"d":13.9,"v":1.8},{"d":13.94,"v":2.6},{"d":13.98,"v":3.9},{"d":14.02,"v":4.6},{"d":14.06,"v":4.8},{"d":14.11,"v":2.9},{"d":14.15,"v":5.9},{"d":14.19,"v":2.9},{"d":14.23,"v":4.6},{"d":14.27,"v":1.8},{"d":14.31,"v":1.3},{"d":14.36,"v":0},{"d":14.74,"v":1.0},{"d":14.82,"v":3.3},{"d":14.86,"v":2.6},{"d":14.9,"v":2.3},{"d":14.94,"v":3.1},{"d":14.98,"v":2.5},{"d":15.02,"v":3.9},{"d":15.06,"v":2.5},{"d":15.12,"v":3.6},{"d":15.18,"v":4.3},{"d":15.23,"v":11.0},{"d":15.26,"v":4.1},{"d":15.3,"v":5.5},{"d":15.35,"v":4.6},{"d":15.39,"v":5.1},{"d":15.45,"v":3.6},{"d":15.51,"v":2.3},{"d":15.56,"v":1.3},{"d":15.62,"v":0},{"d":15.66,"v":0.3},{"d":15.69,"v":2.1},{"d":15.71,"v":1.3},{"d":15.76,"v":2.9},{"d":15.8,"v":17.2},{"d":15.83,"v":5.6},{"d":15.87,"v":4.6},{"d":15.9,"v":11.9},{"d":15.93,"v":5.6},{"d":15.97,"v":4.6},{"d":16.01,"v":2.1},{"d":16.05,"v":1.3},{"d":16.12,"v":1.9},{"d":16.17,"v":3.9},{"d":16.2,"v":1.9},{"d":16.25,"v":1.6},{"d":16.29,"v":0.8},{"d":16.34,"v":0},{"d":16.79,"v":2.3},{"d":16.82,"v":4.6},{"d":16.84,"v":22.9},{"d":16.87,"v":6.3},{"d":16.91,"v":3.8},{"d":16.95,"v":5.4},{"d":16.99,"v":4.6},{"d":17.03,"v":6.3},{"d":17.07,"v":7.3},{"d":17.11,"v":7.9},{"d":17.15,"v":5.4},{"d":17.2,"v":11.2},{"d":17.23,"v":4.6},{"d":17.27,"v":2.1},{"d":17.32,"v":0},{"d":17.58,"v":0.8},{"d":17.64,"v":0.5},{"d":17.67,"v":0},{"d":17.69,"v":1.3},{"d":17.73,"v":2.9},{"d":17.77,"v":6.3},{"d":17.8,"v":16.4},{"d":17.82,"v":7.1},{"d":17.86,"v":7.1},{"d":17.88,"v":23.7},{"d":17.9,"v":6.3},{"d":17.94,"v":6.3},{"d":17.98,"v":6.3},{"d":18.01,"v":4.6},{"d":18.05,"v":2.9},{"d":18.1,"v":1.3},{"d":18.14,"v":2.6},{"d":18.18,"v":2.9},{"d":18.22,"v":4.8},{"d":18.25,"v":1.3},{"d":18.3,"v":1.0},{"d":18.35,"v":1.3},{"d":18.39,"v":2.6},{"d":18.43,"v":4.1},{"d":18.46,"v":0.6},{"d":18.52,"v":0},{"d":18.76,"v":0.8},{"d":18.79,"v":0},{"d":19.26,"v":2.1},{"d":19.3,"v":4.1},{"d":19.32,"v":15.9},{"d":19.35,"v":3.8},{"d":19.4,"v":3.3},{"d":19.44,"v":4.6},{"d":19.47,"v":6.3},{"d":19.5,"v":3.9},{"d":19.54,"v":4.6},{"d":19.58,"v":4.8},{"d":19.62,"v":4.6},{"d":19.66,"v":6.3},{"d":19.7,"v":6.8},{"d":19.74,"v":21.7},{"d":19.77,"v":6.3},{"d":19.81,"v":2.1},{"d":19.85,"v":1.3},{"d":19.89,"v":0.6},{"d":19.93,"v":0},{"d":20.49,"v":1.3},{"d":20.52,"v":6.6},{"d":20.56,"v":6.2},{"d":20.6,"v":4.6},{"d":20.63,"v":5.8},{"d":20.67,"v":4.6},{"d":20.71,"v":2.3},{"d":20.76,"v":1.3},{"d":20.8,"v":0},{"d":21.44,"v":1.6},{"d":21.52,"v":1.3},{"d":21.57,"v":11.4},{"d":21.6,"v":1.6},{"d":21.64,"v":0.5},{"d":21.68,"v":0},{"d":22.23,"v":2.1},{"d":22.27,"v":4.6},{"d":22.3,"v":18.9},{"d":22.33,"v":4.6},{"d":22.37,"v":6.3},{"d":22.42,"v":4.6},{"d":22.45,"v":5.5},{"d":22.49,"v":4.6},{"d":22.52,"v":6.3},{"d":22.56,"v":4.9},{"d":22.6,"v":3.8},{"d":22.64,"v":14.2},{"d":22.67,"v":4.6},{"d":22.72,"v":4.8},{"d":22.77,"v":1.3},{"d":22.81,"v":0},{"d":23.35,"v":2.1},{"d":23.39,"v":3.3},{"d":23.43,"v":6.1},{"d":23.47,"v":4.6},{"d":23.51,"v":2.9},{"d":23.55,"v":4.9},{"d":23.57,"v":16.2},{"d":23.6,"v":4.6},{"d":23.64,"v":3.3},{"d":23.69,"v":3.3},{"d":23.74,"v":1.8},{"d":23.8,"v":0},{"d":24.29,"v":2.4},{"d":24.34,"v":2.6},{"d":24.38,"v":3.8},{"d":24.42,"v":2.9},{"d":24.46,"v":5.1},{"d":24.5,"v":2.9},{"d":24.54,"v":4.1},{"d":24.57,"v":19.4},{"d":24.6,"v":2.9},{"d":24.65,"v":2.9},{"d":24.71,"v":1.3},{"d":24.75,"v":0},{"d":25.31,"v":2.6},{"d":25.35,"v":1.3},{"d":25.39,"v":3.3},{"d":25.44,"v":6.3},{"d":25.48,"v":7.4},{"d":25.51,"v":16.9},{"d":25.54,"v":7.6},{"d":25.57,"v":6.3},{"d":25.61,"v":5.4},{"d":25.65,"v":4.6},{"d":25.69,"v":3.8},{"d":25.73,"v":2.1},{"d":25.76,"v":1.3},{"d":25.8,"v":0},{"d":27.29,"v":1.3},{"d":27.33,"v":2.1},{"d":27.37,"v":2.6},{"d":27.41,"v":2.3},{"d":27.45,"v":2.9},{"d":27.5,"v":4.8},{"d":27.53,"v":2.1},{"d":27.58,"v":1.6},{"d":27.62,"v":1.3},{"d":27.66,"v":0.8},{"d":27.7,"v":0},{"d":28.04,"v":0.3},{"d":28.07,"v":0},{"d":28.29,"v":1.0},{"d":28.33,"v":1.6},{"d":28.38,"v":2.9},{"d":28.43,"v":2.1},{"d":28.47,"v":3.3},{"d":28.51,"v":1.3},{"d":28.55,"v":0.6},{"d":28.58,"v":0},{"d":28.74,"v":0.5},{"d":28.77,"v":0},{"d":28.95,"v":0.6},{"d":29.03,"v":0.8},{"d":29.06,"v":0},{"d":29.28,"v":0.6},{"d":29.32,"v":2.1},{"d":29.36,"v":5.3},{"d":29.4,"v":2.1},{"d":29.44,"v":1.3},{"d":29.52,"v":0.6},{"d":29.55,"v":0},{"d":29.69,"v":0.3},{"d":29.72,"v":0},{"d":29.98,"v":0.5},{"d":30.01,"v":0},{"d":30.1,"v":0.3},{"d":30.13,"v":0},{"d":30.43,"v":0.6},{"d":30.46,"v":1.7},{"d":30.5,"v":2.6},{"d":30.53,"v":4.5},{"d":30.57,"v":2.8},{"d":30.61,"v":1.7},{"d":30.65,"v":1.0},{"d":30.69,"v":0},{"d":31.0,"v":0}]
},
"config": {
  "view": {"stroke": "#a0a0a0", "strokeWidth": 1},
  "axis": {"labelFont": "Liberation Sans", "labelFontSize": 17, "labelColor": "#000000", "titleFont": "Liberation Sans", "titleFontSize": 18, "titleFontWeight": "normal", "titleColor": "#000000", "domainColor": "#000000", "domainWidth": 2, "tickColor": "#000000", "tickSize": 5, "tickWidth": 1.5, "labelPadding": 2, "grid": false, "labelOverlap": false, "labelBound": false}
},
"resolve": {"scale": {"y": "independent"}},
"layer": [
  {
    "data": {"name": "p"},
    "mark": {"type": "line", "strokeWidth": 2},
    "encoding": {
      "x": {"field": "d", "type": "quantitative", "title": null, "scale": {"domain": [1, 31], "nice": false, "zero": false},
            "axis": {"values": [2,4,6,8,10,12,14,16,18,20,22,24,26,28,30], "labelExpr": "datum.value + '-Jun'", "grid": true, "gridColor": "#c4c4c4", "gridDash": [4, 4], "domainColor": "#808080", "domainWidth": 2, "tickColor": "#808080", "tickSize": 4, "labelPadding": 3, "zindex": 1}},
      "y": {"field": "v", "type": "quantitative", "scale": {"domain": [950, 1050], "nice": false, "zero": false},
            "axis": {"orient": "left", "offset": 74, "values": [950,955,960,965,970,975,980,985,990,995,1000,1005,1010,1015,1020,1025,1030,1035,1040,1045,1050], "format": "d", "title": "Luftdruck hPa", "titlePadding": 9}},
      "color": {"datum": "Luftdruck", "type": "nominal",
        "scale": {"domain": ["Luftdruck", "Temperatur aussen", "Luftfeuchte aussen", "Niederschlag", "Windgeschwindigkeit"], "range": ["#000000", "#0a32d2", "#22c875", "#ffff00", "#ff0000"]},
        "legend": {"orient": "none", "legendX": 5, "legendY": 878, "direction": "horizontal", "title": null, "symbolType": "M-2.6,0H2.6", "symbolSize": 400, "symbolStrokeWidth": 2, "symbolOffset": 16, "labelOffset": 21, "labelLimit": 500, "labelFont": "Liberation Sans", "labelFontSize": 20, "labelColor": "#000000", "strokeColor": "#8c8c8c", "fillColor": "#ffffff", "padding": 4, "columnPadding": 14,
          "encode": {"symbols": {"update": {"stroke": {"scale": "color", "field": "value"}, "strokeWidth": {"value": 2}, "fill": {"value": "transparent"}}}}}}
    }
  },
  {
    "data": {"name": "t"},
    "mark": {"type": "line", "strokeWidth": 2.5},
    "encoding": {
      "x": {"field": "d", "type": "quantitative", "title": null, "scale": {"domain": [1, 31], "nice": false, "zero": false}},
      "y": {"field": "v", "type": "quantitative", "scale": {"domain": [0, 38], "nice": false},
            "axis": {"orient": "left", "offset": 0, "values": [0,2.5,5,7.5,10,12.5,15,17.5,20,22.5,25,27.5,30,32.5,35,37.5], "labelExpr": "replace(format(datum.value, '~g'), '.', ',')", "title": "Temperatur °C", "titlePadding": 9, "grid": true, "gridColor": "#c4c4c4", "gridDash": [5, 4], "domainColor": "#808080", "domainWidth": 4, "tickSize": 6}},
      "color": {"datum": "Temperatur aussen", "type": "nominal"}
    }
  },
  {
    "data": {"name": "h"},
    "mark": {"type": "line", "strokeWidth": 2.5},
    "encoding": {
      "x": {"field": "d", "type": "quantitative", "title": null, "scale": {"domain": [1, 31], "nice": false, "zero": false}},
      "y": {"field": "v", "type": "quantitative", "scale": {"domain": [0, 88], "nice": false},
            "axis": {"orient": "right", "offset": 0, "values": [0,5,10,15,20,25,30,35,40,45,50,55,60,65,70,75,80,85], "title": "Luftfeuchte %rH", "titlePadding": 5, "domainColor": "#808080", "domainWidth": 3}},
      "color": {"datum": "Luftfeuchte aussen", "type": "nominal"}
    }
  },
  {
    "data": {"name": "r"},
    "mark": {"type": "rect"},
    "encoding": {
      "x": {"field": "a", "type": "quantitative", "title": null, "scale": {"domain": [1, 31], "nice": false, "zero": false}},
      "x2": {"field": "b"},
      "y": {"field": "v", "type": "quantitative", "scale": {"domain": [0, 1.95], "nice": false},
            "axis": {"orient": "left", "offset": 152, "values": [0,0.1,0.2,0.3,0.4,0.5,0.6,0.7,0.8,0.9,1,1.1,1.2,1.3,1.4,1.5,1.6,1.7,1.8,1.9], "labelExpr": "replace(format(datum.value, '~g'), '.', ',')", "title": "Niederschlag l/m²", "titlePadding": 8}},
      "y2": {"datum": 0},
      "color": {"datum": "Niederschlag", "type": "nominal"}
    }
  },
  {
    "data": {"name": "w"},
    "mark": {"type": "area", "interpolate": "step-after", "stroke": "#ff0000", "strokeWidth": 1},
    "encoding": {
      "x": {"field": "d", "type": "quantitative", "title": null, "scale": {"domain": [1, 31], "nice": false, "zero": false}},
      "y": {"field": "v", "type": "quantitative", "scale": {"domain": [0, 26], "nice": false},
            "axis": {"orient": "right", "offset": 57, "values": [0,1,2,3,4,5,6,7,8,9,10,11,12,13,14,15,16,17,18,19,20,21,22,23,24,25], "title": "Windgeschwindigkeit km/h", "titlePadding": 6}},
      "color": {"datum": "Windgeschwindigkeit", "type": "nominal"}
    }
  }
]
}
